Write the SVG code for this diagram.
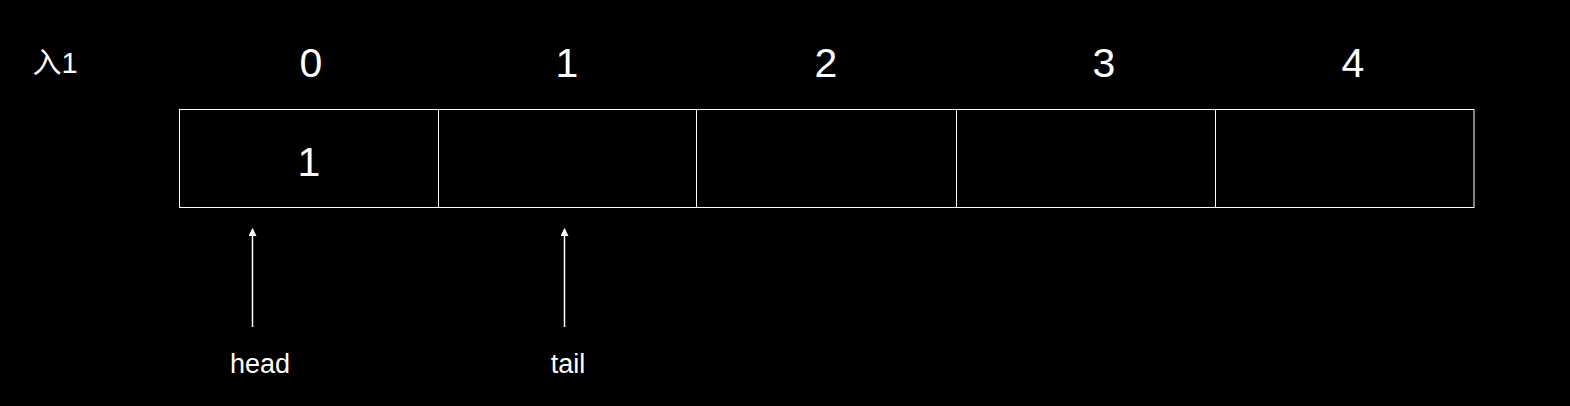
<svg xmlns="http://www.w3.org/2000/svg" width="1570" height="406" viewBox="0 0 1570 406">
<style>
.cell{fill:#000;stroke:#fff;stroke-width:1}
.idx{font-family:"Liberation Sans",Arial,sans-serif;font-size:41px;fill:#fff;text-anchor:middle}
.lbl{font-family:"Liberation Sans",Arial,sans-serif;font-size:27px;fill:#fff;text-anchor:middle}
.conn{stroke:#fff;stroke-width:1.5;fill:none}
</style>
<defs>
<marker id="arr" viewBox="0 0 8 8" refX="7" refY="4" markerWidth="8" markerHeight="8" markerUnits="userSpaceOnUse" orient="auto">
<path d="M0,0 L8,4 L0,8 Z" fill="#fff"/>
</marker>
</defs>
<rect width="1570" height="406" fill="#000"/>
<text x="55" y="73" font-family="'Liberation Sans','Noto Sans CJK SC',sans-serif" font-size="29" fill="#fff" text-anchor="middle">入1</text>
<g id="labels">
<text class="idx" x="311" y="77">0</text>
<text class="idx" x="567" y="77">1</text>
<text class="idx" x="826" y="77">2</text>
<text class="idx" x="1104" y="77">3</text>
<text class="idx" x="1353" y="77">4</text>
</g>
<g id="cell0"><rect class="cell" x="179.5" y="109.5" width="259" height="98"/><text class="idx" x="309" y="176">1</text></g>
<g id="cell1"><rect class="cell" x="438.5" y="109.5" width="258" height="98"/></g>
<g id="cell2"><rect class="cell" x="696.5" y="109.5" width="260" height="98"/></g>
<g id="cell3"><rect class="cell" x="956.5" y="109.5" width="259" height="98"/></g>
<g id="cell4"><rect class="cell" x="1215.5" y="109.5" width="258.5" height="98"/></g>
<g id="head"><text class="lbl" x="260" y="373">head</text></g>
<g id="tail"><text class="lbl" x="568" y="373">tail</text></g>
<g id="connectors">
<line class="conn" x1="252.5" y1="327" x2="252.5" y2="229" marker-end="url(#arr)"/>
<line class="conn" x1="564.5" y1="327" x2="564.5" y2="229" marker-end="url(#arr)"/>
</g>
</svg>
